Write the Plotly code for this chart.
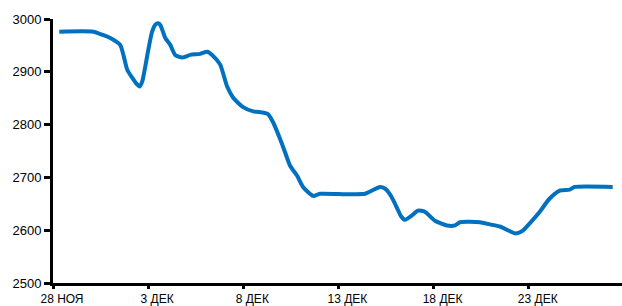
import plotly.graph_objects as go

# days since 28 Nov (fractional, intraday)
days = [0.33, 2.12, 2.6, 3.01, 3.53, 3.90, 4.16, 4.42, 4.55, 4.69, 5.00, 5.20, 5.37, 5.53, 5.65,
        5.90, 6.16, 6.42, 6.79, 7.21, 7.73, 8.10, 8.36, 8.78, 9.15, 9.47, 9.99, 10.52,
        10.99, 11.30, 11.57, 11.93, 12.19, 12.46, 12.83, 13.14, 13.67, 14.03, 16.40,
        17.18, 17.44, 17.71, 17.92, 18.13, 18.28, 18.49, 18.86, 19.18, 19.54, 20.07,
        20.70, 21.12, 21.38, 22.43, 22.96, 23.48, 23.90, 24.27, 24.64, 25.05, 25.58,
        26.10, 26.63, 27.15, 27.42, 29.41]
values = [2976, 2976, 2970, 2964, 2951, 2904, 2889, 2876, 2872, 2882, 2940, 2975, 2989, 2992, 2988,
          2964, 2951, 2932, 2927, 2932, 2934, 2938, 2932, 2914, 2872, 2851, 2833, 2825,
          2823, 2820, 2804, 2773, 2748, 2722, 2703, 2682, 2665, 2669, 2669,
          2682, 2679, 2668, 2654, 2638, 2627, 2620, 2628, 2637, 2635, 2618,
          2609, 2609, 2615, 2615, 2611, 2607, 2600, 2594, 2598, 2613, 2635,
          2660, 2675, 2677, 2682, 2682]

tick_days = [0, 5, 10, 15, 20, 25]
tick_labels = ["28 НОЯ", "3 ДЕК", "8 ДЕК", "13 ДЕК", "18 ДЕК", "23 ДЕК"]

fig = go.Figure()
fig.add_trace(go.Scatter(x=days, y=values, mode="lines",
                         line=dict(color="#0070C0", width=4, shape="spline", smoothing=0.6),
                         showlegend=False))

fig.update_layout(
    width=622, height=306,
    margin=dict(l=53, r=0, t=19, b=21),
    paper_bgcolor="white", plot_bgcolor="white",
    font=dict(family="Liberation Sans, Arial, sans-serif", color="black", size=13),
)
fig.update_xaxes(range=[0, 29.9], tickvals=tick_days, ticktext=tick_labels,
                 showgrid=False, zeroline=False, showline=True, linecolor="black",
                 linewidth=3, ticks="outside", ticklen=3, tickwidth=3, tickcolor="black",
                 tickfont=dict(size=12), ticklabelshift=9)
fig.update_yaxes(range=[2500, 3000], dtick=100, showgrid=False, zeroline=False,
                 showline=True, linecolor="black", linewidth=3, ticks="outside",
                 ticklen=6, tickwidth=3, tickcolor="black", tickfont=dict(size=13))

fig.write_html("out.html", config={"displayModeBar": False},
               post_script="document.body.style.margin='0';")
